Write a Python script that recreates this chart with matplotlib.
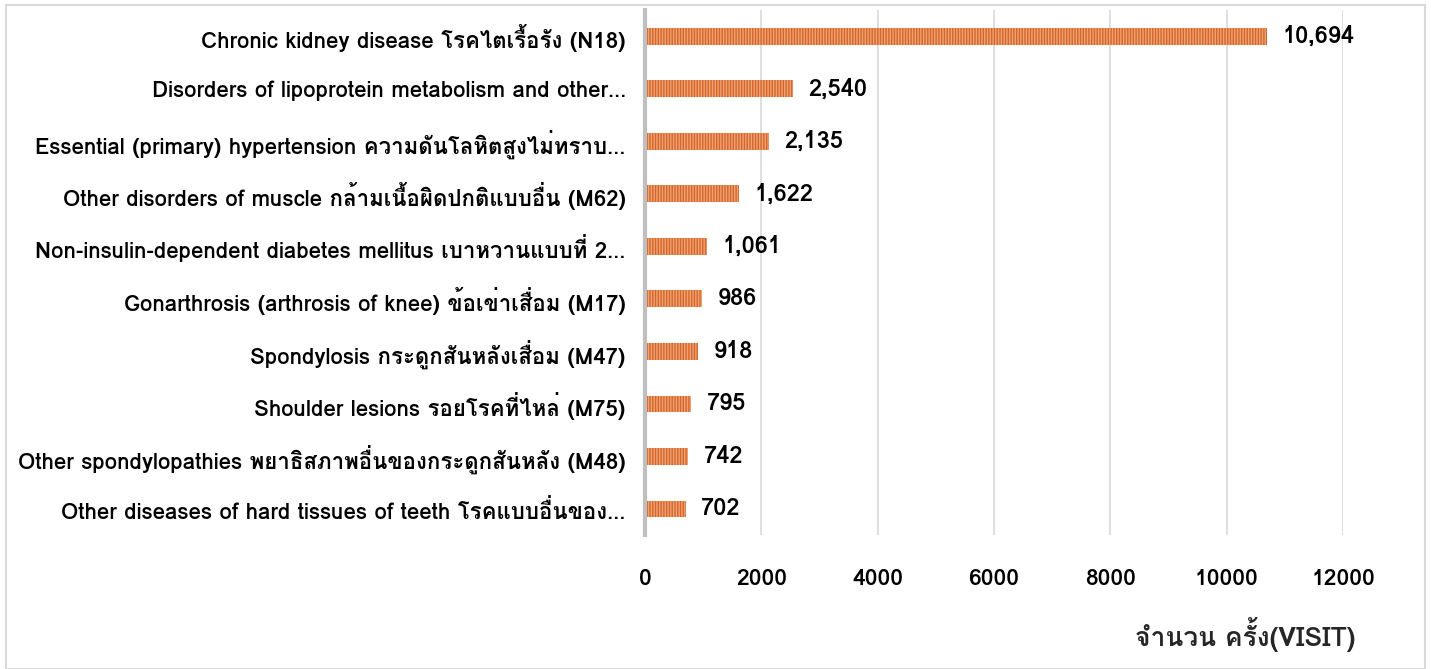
import matplotlib
matplotlib.use("Agg")
import matplotlib.pyplot as plt
from matplotlib.patches import Rectangle

# top -> bottom, as shown in the chart
diseases = [
    "Chronic kidney disease โรคไตเรื้อรัง (N18)",
    "Disorders of lipoprotein metabolism and other…",
    "Essential (primary) hypertension ความดันโลหิตสูงไม่ทราบ…",
    "Other disorders of muscle กล้ามเนื้อผิดปกติแบบอื่น (M62)",
    "Non-insulin-dependent diabetes mellitus เบาหวานแบบที่ 2…",
    "Gonarthrosis (arthrosis of knee) ข้อเข่าเสื่อม (M17)",
    "Spondylosis กระดูกสันหลังเสื่อม (M47)",
    "Shoulder lesions รอยโรคที่ไหล่ (M75)",
    "Other spondylopathies พยาธิสภาพอื่นของกระดูกสันหลัง (M48)",
    "Other diseases of hard tissues of teeth โรคแบบอื่นของ…",
]
visits = [10694, 2540, 2135, 1622, 1061, 986, 918, 795, 742, 702]
xticks = [0, 2000, 4000, 6000, 8000, 10000, 12000]
xlabel = "จำนวน ครั้ง(VISIT)"

plt.rcParams["font.family"] = ["Loma", "Noto Sans Thai Looped", "DejaVu Sans"]
plt.rcParams["font.weight"] = "bold"
plt.rcParams["hatch.linewidth"] = 1.0

fig = plt.figure(figsize=(14.31, 6.69), dpi=100)
fig.patches.append(Rectangle((0.004, 0.0), 0.992, 0.992, transform=fig.transFigure,
                             fill=False, edgecolor="#D9D9D9", linewidth=1.5))

ax = fig.add_axes([0.4507, 0.200, 0.4878, 0.785])
pos = list(range(len(diseases)))
ax.barh(pos, visits, height=0.32, color="#D5662A", edgecolor="#EFA274",
        linewidth=0, hatch="||||||", zorder=3)

for p, v in zip(pos, visits):
    ax.annotate(f"{v:,}", (v, p), xytext=(11, 0), textcoords="offset points",
                va="center", ha="left", fontsize=17, color="black")

ax.set_yticks(pos)
ax.set_yticklabels(diseases, fontsize=16)
ax.set_ylim(len(diseases) - 0.5, -0.5)
ax.set_xlim(0, 12000)
ax.set_xticks(xticks)
ax.set_xticklabels([str(t) for t in xticks], fontsize=16.5)
ax.tick_params(axis="y", length=0, pad=14)
ax.tick_params(axis="x", length=0, pad=24)
ax.grid(axis="x", color="#D9D9D9", linewidth=1.2, zorder=0)
ax.set_axisbelow(True)
for s in ["top", "right", "bottom"]:
    ax.spines[s].set_visible(False)
ax.spines["left"].set_color("#BFBFBF")
ax.spines["left"].set_linewidth(3)
ax.spines["left"].set_zorder(4)

fig.text(0.947, 0.052, xlabel, ha="right", va="center", fontsize=19,
         fontweight="bold", color="#262626")

fig.savefig("out.png", dpi=100)
